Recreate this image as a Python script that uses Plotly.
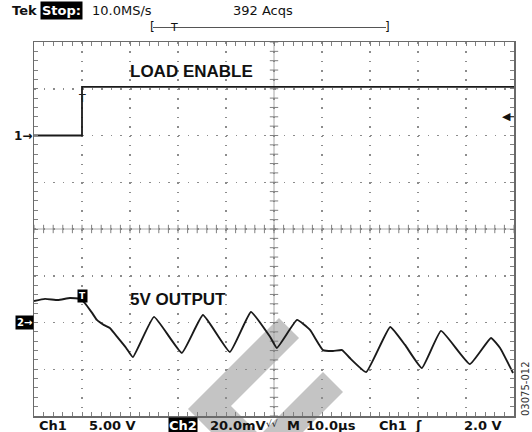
import numpy as np
import plotly.graph_objects as go

# ---------------- data ----------------
# time base: 10 us/div, trigger at t = 0 (one division from the left edge)
time_ch1 = [-10.0, 0.0, 0.0, 90.0]          # us
volt_ch1 = [0.0, 0.0, 5.2, 5.2]             # V   (Ch1, 5 V/div) LOAD ENABLE

time_ch2 = [-10.0, -7.7, -5.0, -2.5, -0.4, 0.6, 2.1, 3.1, 4.6, 5.8, 7.5, 9.2,
            10.6, 15.0, 20.8, 25.2, 30.8, 35.2, 39.2, 40.6, 44.8, 47.5, 50.2,
            52.3, 54.2, 55.8, 59.2, 64.2, 67.3, 70.8, 74.8, 80.8, 85.2, 87.1, 89.8]
mv_ch2 = [9.2, 10.1, 9.6, 10.5, 10.1, 8.3, 4.1, 1.1, -1.1, -2.4, -6.6, -10.9,
          -14.8, 2.4, -13.0, 3.2, -12.6, 4.5, -6.2, -10.9, 1.1, -3.2, -11.8,
          -12.2, -11.8, -15.2, -21.2, -1.9, -9.6, -19.5, -3.6, -17.8, -6.6, -10.9, -21.6]  # mV (Ch2, 20 mV/div) 5V OUTPUT

TIME_RANGE = [-10, 90]
CH1_RANGE = [-30, 10]     # 8 div x 5 V
CH2_RANGE = [-40, 120]    # 8 div x 20 mV
TRIG_LEVEL = 2.0          # V on Ch1

header_texts = ["Tek", "Stop:", "10.0MS/s", "392 Acqs"]
footer_texts = ["Ch1", "5.00 V", "Ch2", "20.0mV", "\u221a\u221a", "M", "10.0\u00b5s", "Ch1", "\u0283", "2.0 V"]

# ---------------- layout geometry ----------------
W, H = 532, 432
ML, MR, MT, MB = 34, 18, 42, 16
PW, PH = W - ML - MR, H - MT - MB


def px(x):
    return (x - ML) / PW


def py(y):
    return (H - MB - y) / PH


fig = go.Figure()

fig.add_trace(go.Scatter(x=time_ch1, y=volt_ch1, mode="lines", yaxis="y",
                         line=dict(color="#1a1a1a", width=1.8), hoverinfo="skip"))
fig.add_trace(go.Scatter(x=time_ch2, y=mv_ch2, mode="lines", yaxis="y2",
                         line=dict(color="#1a1a1a", width=1.9, shape="spline", smoothing=0.35),
                         hoverinfo="skip"))

# centre-line graticule ticks
xc = (TIME_RANGE[0] + TIME_RANGE[1]) / 2
yc = (CH1_RANGE[0] + CH1_RANGE[1]) / 2
xt = np.arange(TIME_RANGE[0], TIME_RANGE[1] + 0.001, 2)
yt = np.arange(CH1_RANGE[0], CH1_RANGE[1] + 0.001, 1)
fig.add_trace(go.Scatter(x=xt, y=[yc] * len(xt), mode="markers", yaxis="y", hoverinfo="skip",
                         marker=dict(symbol="line-ns", size=6, line=dict(width=1, color="#808080"))))
fig.add_trace(go.Scatter(x=[xc] * len(yt), y=yt, mode="markers", yaxis="y", hoverinfo="skip",
                         marker=dict(symbol="line-ew", size=6, line=dict(width=1, color="#808080"))))


def path(pts):
    s = "M " + " L ".join(f"{px(a):.4f},{py(b):.4f}" for a, b in pts) + " Z"
    return s


shapes = []
# watermark chevrons
wm = "#c4c4c4"
shapes.append(dict(type="path", xref="paper", yref="paper", layer="below", line=dict(width=0),
                   fillcolor=wm, path=path([(279, 318), (299, 338), (231, 406), (265, 440), (219, 440), (188, 409)])))
shapes.append(dict(type="path", xref="paper", yref="paper", layer="below", line=dict(width=0),
                   fillcolor=wm, path=path([(323, 372), (343, 392), (295, 440), (255, 440)])))
# centre lines
shapes.append(dict(type="line", xref="x", yref="paper", x0=xc, x1=xc, y0=0, y1=1, layer="below",
                   line=dict(color="#a8a8a8", width=1)))
shapes.append(dict(type="line", xref="paper", yref="y", x0=0, x1=1, y0=yc, y1=yc, layer="below",
                   line=dict(color="#a8a8a8", width=1)))
# record bracket line
shapes.append(dict(type="line", xref="paper", yref="paper", x0=px(153), x1=px(386), y0=py(27.5), y1=py(27.5),
                   line=dict(color="#555", width=1)))
# trigger level pointer tail
shapes.append(dict(type="line", xref="paper", yref="y", x0=px(508), x1=1, y0=TRIG_LEVEL, y1=TRIG_LEVEL,
                   line=dict(color="#222", width=1)))

FAM = "DejaVu Sans"


def txt(s, x, y, size=13, weight="bold", color="#111", xanchor="left", bg=None, family=FAM, angle=0, pad=1):
    d = dict(text=s, xref="paper", yref="paper", x=px(x), y=py(y), xanchor=xanchor, yanchor="middle",
             showarrow=False, font=dict(family=family, size=size, color=color, weight=weight),
             borderpad=pad, textangle=angle)
    if bg:
        d["bgcolor"] = bg
    return d


ann = []
# header
ann.append(txt(header_texts[0], 10, 10, size=13))
ann.append(txt(header_texts[1], 40, 10, size=13, color="white", bg="black"))
ann.append(txt(header_texts[2], 90, 10, size=13, weight="normal"))
ann.append(txt(header_texts[3], 231, 10, size=13, weight="normal"))
# record bracket
ann.append(txt("[", 152, 27, size=12, weight="normal", xanchor="center"))
ann.append(txt("]", 387, 27, size=12, weight="normal", xanchor="center"))
ann.append(txt("T", 174, 27, size=11, weight="normal", xanchor="center"))
# footer
fx = [37, 87, 168, 208, 264, 285, 304, 377, 413, 462]
for i, (s, x) in enumerate(zip(footer_texts, fx)):
    if s == "Ch2":
        ann.append(txt(s, x, 425, size=13, color="white", bg="black", pad=0))
    elif s == "\u221a\u221a":
        ann.append(txt(s, x, 424, size=9, weight="normal"))
    else:
        ann.append(txt(s, x, 425, size=13))
# labels
ann.append(txt("LOAD ENABLE", 191, 71, size=17, xanchor="center", family="Liberation Sans"))
ann.append(txt("5V OUTPUT", 178, 299.5, size=17, xanchor="center", family="Liberation Sans"))
# side id
ann.append(txt("03075-012", 525, 389, size=10, weight="normal", color="#333", xanchor="center", angle=-90))
# channel ground markers
ann.append(dict(text="1\u2192", xref="paper", yref="y", x=0, y=0, xanchor="right", yanchor="middle",
                showarrow=False, font=dict(family=FAM, size=12, color="#111", weight="bold")))
ann.append(dict(text="2\u2192", xref="paper", yref="y2", x=0, y=0, xanchor="right", yanchor="middle",
                showarrow=False, bgcolor="black", borderpad=1,
                font=dict(family=FAM, size=10, color="white", weight="bold")))
# trigger markers
ann.append(dict(text="T", xref="x", yref="y", x=0, y=4.0, xanchor="center", yanchor="middle",
                showarrow=False, font=dict(family=FAM, size=11, color="#222")))
ann.append(dict(text="T", xref="x", yref="y2", x=0, y=11.3, xanchor="center", yanchor="middle",
                showarrow=False, bgcolor="black", borderpad=1,
                font=dict(family=FAM, size=9, color="white", weight="bold")))
ann.append(dict(text="\u25c0", xref="paper", yref="y", x=px(506), y=TRIG_LEVEL, xanchor="center",
                yanchor="middle", showarrow=False, font=dict(family=FAM, size=11, color="#111")))

tick_common = dict(ticks="inside", ticklen=4, tickwidth=1, tickcolor="#808080",
                   showline=True, linecolor="#6a6a6a", linewidth=1.5, mirror="allticks",
                   showticklabels=False, zeroline=False, showgrid=True, gridcolor="#8c8c8c",
                   gridwidth=1.5, fixedrange=True)

fig.update_layout(
    width=W, height=H, margin=dict(l=ML, r=MR, t=MT, b=MB),
    paper_bgcolor="white", plot_bgcolor="white", showlegend=False,
    xaxis=dict(range=TIME_RANGE, dtick=10, tick0=TIME_RANGE[0], griddash="1.5px,7.85px",
               minor=dict(dtick=2, tick0=TIME_RANGE[0], ticks="inside", ticklen=4, tickwidth=1,
                          tickcolor="#808080", showgrid=False),
               **tick_common),
    yaxis=dict(range=CH1_RANGE, dtick=5, tick0=0, griddash="1.5px,8.1px",
               minor=dict(dtick=1, tick0=0, ticks="inside", ticklen=4, tickwidth=1,
                          tickcolor="#808080", showgrid=False),
               **tick_common),
    yaxis2=dict(range=CH2_RANGE, overlaying="y", visible=False, fixedrange=True),
    shapes=shapes, annotations=ann,
)

fig.write_html("out.html", config={"displayModeBar": False, "staticPlot": True},
               post_script="document.body.style.margin='0px';document.body.style.overflow='hidden';")
